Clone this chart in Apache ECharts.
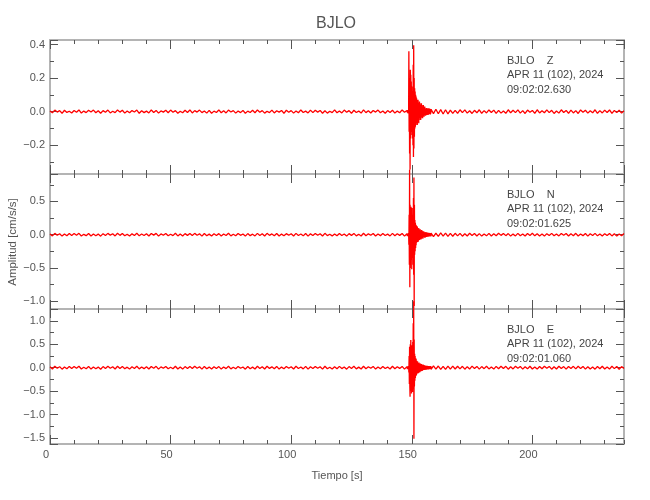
<!DOCTYPE html>
<html>
<head>
<meta charset="utf-8">
<script src="https://cdn.jsdelivr.net/npm/echarts@6/dist/echarts.min.js"></script>
<style>
html,body{margin:0;padding:0;background:#fff;}
#chart{width:650px;height:500px;}
</style>
</head>
<body>
<div id="chart"></div>
<script>
// ---------------- DATA ----------------
const station = 'BJLO';
const components = ['Z', 'N', 'E'];
const dateText = 'APR 11 (102), 2024';
const startTimes = ['09:02:02.630', '09:02:01.625', '09:02:01.060'];
const xTitle = 'Tiempo [s]';
const yTitle = 'Amplitud [cm/s/s]';

// sampling of the three segments (seconds)
const preStart = 0, preStep = 1;       // 0 .. 148 s
const evtStart = 148.1, evtStep = 0.1; // 148.1 .. 158.0 s
const postStart = 158, postStep = 1;   // 158 .. 238 s

// ---- Z component ----
const zPre = [
0.004,-0.007,0.009,-0.003,0.006,-0.010,0.008,-0.005,0.002,-0.008,
0.007,-0.004,0.010,-0.009,0.003,-0.006,0.008,-0.002,0.009,-0.007,
0.005,-0.010,0.006,-0.004,0.009,-0.008,0.002,-0.006,0.010,-0.003,
0.008,-0.009,0.004,-0.007,0.006,-0.002,0.009,-0.010,0.005,-0.006,
0.003,-0.008,0.010,-0.005,0.007,-0.009,0.004,-0.003,0.008,-0.007,
0.009,-0.004,0.006,-0.010,0.002,-0.007,0.008,-0.005,0.010,-0.008,
0.006,-0.003,0.009,-0.006,0.004,-0.009,0.007,-0.010,0.003,-0.005,
0.010,-0.007,0.005,-0.008,0.009,-0.002,0.006,-0.009,0.004,-0.006,
0.007,-0.010,0.003,-0.005,0.008,-0.007,0.010,-0.004,0.006,-0.009,
0.002,-0.006,0.009,-0.008,0.005,-0.003,0.007,-0.010,0.008,-0.004,
0.006,-0.009,0.004,-0.007,0.010,-0.005,0.003,-0.008,0.009,-0.006,
0.008,-0.003,0.007,-0.010,0.005,-0.009,0.002,-0.006,0.010,-0.007,
0.004,-0.008,0.009,-0.004,0.006,-0.010,0.008,-0.005,0.003,-0.009,
0.010,-0.006,0.005,-0.008,0.007,-0.003,0.009,-0.007,0.004,-0.010,
0.006,-0.005,0.008,-0.009,0.003,-0.007,0.010,-0.004,0.007
];
const zEvent = [
0.008,-0.006,0.010,-0.009,0.007,-0.011,0.012,
0.36,-0.12,0.20,-0.25,0.14,-0.345,0.25,-0.16,0.22,-0.12,0.18,-0.10,0.15,-0.14,0.12,-0.16,0.10,-0.20,0.28,-0.27,0.395,-0.22,0.20,-0.15,0.14,-0.10,0.12,-0.09,0.10,-0.08,0.09,-0.07,0.08,-0.06,
0.07,-0.08,0.06,-0.05,0.07,-0.06,0.05,-0.07,0.04,-0.05,
0.06,-0.04,0.05,-0.03,0.04,-0.05,0.03,-0.04,0.05,-0.03,
0.04,-0.03,0.03,-0.04,0.02,-0.03,0.04,-0.02,0.03,-0.03,
0.025,-0.02,0.03,-0.015,0.02,-0.025,0.018,-0.022,0.015,-0.02,
0.022,-0.018,0.02,-0.014,0.017,-0.02,0.012,-0.018,0.02,-0.015,
0.016,-0.012,0.018,-0.014,0.013,-0.017,0.015,-0.011,0.014
];
const zPost = [
0.015,-0.012,0.014,-0.013,0.012,-0.014,0.011,-0.013,
0.009,-0.011,0.007,-0.010,0.011,-0.006,0.010,-0.009,0.005,-0.011,
0.008,-0.007,0.011,-0.010,0.006,-0.008,0.010,-0.005,0.009,-0.011,
0.007,-0.009,0.004,-0.010,0.011,-0.007,0.008,-0.006,0.010,-0.009,
0.006,-0.011,0.009,-0.004,0.007,-0.010,0.011,-0.008,0.005,-0.007,
0.010,-0.006,0.008,-0.011,0.004,-0.009,0.011,-0.005,0.007,-0.010,
0.009,-0.008,0.006,-0.011,0.010,-0.004,0.008,-0.009,0.005,-0.007,
0.011,-0.010,0.006,-0.008,0.009,-0.005,0.010,-0.011,0.007,-0.006,
0.008,-0.009,0.005
];

// ---- N component ----
const nPre = [
0.012,-0.018,0.020,-0.008,0.015,-0.021,0.010,-0.016,0.019,-0.011,
0.017,-0.009,0.021,-0.019,0.006,-0.014,0.018,-0.020,0.011,-0.015,
0.009,-0.022,0.016,-0.012,0.020,-0.007,0.014,-0.018,0.021,-0.010,
0.019,-0.016,0.008,-0.020,0.013,-0.011,0.022,-0.017,0.010,-0.013,
0.015,-0.019,0.018,-0.006,0.020,-0.021,0.012,-0.009,0.017,-0.016,
0.007,-0.014,0.021,-0.018,0.011,-0.020,0.016,-0.010,0.019,-0.012,
0.020,-0.008,0.013,-0.021,0.018,-0.015,0.009,-0.019,0.014,-0.011,
0.016,-0.020,0.010,-0.013,0.022,-0.017,0.006,-0.016,0.019,-0.009,
0.011,-0.021,0.017,-0.014,0.008,-0.018,0.020,-0.012,0.015,-0.019,
0.021,-0.010,0.012,-0.016,0.018,-0.020,0.009,-0.015,0.016,-0.008,
0.014,-0.019,0.020,-0.011,0.010,-0.017,0.019,-0.021,0.013,-0.012,
0.017,-0.009,0.015,-0.020,0.021,-0.014,0.007,-0.018,0.012,-0.016,
0.019,-0.013,0.010,-0.021,0.016,-0.010,0.020,-0.017,0.008,-0.019,
0.022,-0.015,0.013,-0.009,0.018,-0.020,0.011,-0.014,0.017,-0.012,
0.009,-0.018,0.020,-0.016,0.014,-0.010,0.019,-0.021,0.015
];
const nEvent = [
0.015,-0.020,0.018,-0.016,0.022,-0.019,0.025,
-0.15,0.30,-0.45,0.98,-0.79,0.45,-0.50,0.35,-0.30,0.42,-0.38,0.28,-0.52,0.40,-0.30,0.25,-0.35,0.30,-0.45,0.55,-0.60,0.86,-1.07,0.45,-0.30,0.22,-0.25,0.18,-0.20,0.15,-0.16,0.14,-0.12,0.13,
-0.11,0.12,-0.10,0.09,-0.11,0.08,-0.09,0.10,-0.07,0.08,
-0.08,0.07,-0.06,0.08,-0.07,0.06,-0.07,0.05,-0.06,0.07,
-0.05,0.06,-0.05,0.04,-0.06,0.05,-0.04,0.05,-0.04,0.045,
-0.04,0.035,-0.045,0.03,-0.04,0.035,-0.03,0.04,-0.035,0.028,
-0.032,0.03,-0.027,0.033,-0.029,0.025,-0.03,0.028,-0.024,0.027,
-0.026,0.022,-0.028,0.024,-0.021,0.026,-0.023,0.02,-0.025
];
const nPost = [
0.025,-0.028,0.022,-0.026,0.027,-0.021,0.024,-0.025,0.02,-0.023,
0.021,-0.018,0.02,-0.022,0.015,-0.019,0.022,-0.012,0.018,-0.02,
0.016,-0.021,0.011,-0.017,0.02,-0.019,0.013,-0.016,0.021,-0.01,
0.019,-0.014,0.017,-0.021,0.009,-0.018,0.02,-0.015,0.012,-0.02,
0.018,-0.011,0.021,-0.017,0.014,-0.019,0.01,-0.021,0.016,-0.013,
0.02,-0.016,0.012,-0.018,0.019,-0.009,0.017,-0.02,0.013,-0.015,
0.021,-0.019,0.011,-0.014,0.018,-0.021,0.015,-0.012,0.02,-0.017,
0.01,-0.02,0.016,-0.013,0.019,-0.018,0.014,-0.021,0.012,-0.016,
0.018
];

// ---- E component ----
const ePre = [
0.018,-0.027,0.030,-0.012,0.022,-0.031,0.015,-0.024,0.028,-0.017,
0.026,-0.014,0.031,-0.028,0.010,-0.021,0.027,-0.030,0.016,-0.022,
0.013,-0.032,0.024,-0.018,0.030,-0.011,0.021,-0.027,0.031,-0.015,
0.028,-0.024,0.012,-0.030,0.019,-0.016,0.032,-0.025,0.015,-0.020,
0.022,-0.028,0.027,-0.010,0.030,-0.031,0.018,-0.013,0.025,-0.024,
0.011,-0.021,0.031,-0.027,0.016,-0.030,0.024,-0.015,0.028,-0.018,
0.030,-0.012,0.019,-0.031,0.027,-0.022,0.013,-0.028,0.021,-0.016,
0.024,-0.030,0.015,-0.019,0.032,-0.025,0.010,-0.024,0.028,-0.013,
0.016,-0.031,0.025,-0.021,0.012,-0.027,0.030,-0.018,0.022,-0.028,
0.031,-0.015,0.018,-0.024,0.027,-0.030,0.013,-0.022,0.024,-0.012,
0.021,-0.028,0.030,-0.016,0.015,-0.025,0.028,-0.031,0.019,-0.018,
0.025,-0.013,0.022,-0.030,0.031,-0.021,0.011,-0.027,0.018,-0.024,
0.028,-0.019,0.015,-0.031,0.024,-0.015,0.030,-0.025,0.012,-0.028,
0.032,-0.022,0.019,-0.013,0.027,-0.030,0.016,-0.021,0.025,-0.018,
0.013,-0.027,0.030,-0.024,0.021,-0.015,0.028,-0.031,0.022
];
const eEvent = [
0.025,-0.030,0.028,-0.026,0.032,-0.029,0.035,
-0.10,0.25,-0.35,0.45,-0.40,-0.62,0.50,-0.45,0.59,-0.50,0.40,-0.55,0.48,-0.38,0.42,-0.52,0.55,-0.45,0.95,-0.30,1.42,-1.52,0.60,-0.40,0.30,-0.28,0.25,-0.22,0.20,-0.18,0.19,-0.16,0.15,-0.14,
0.13,-0.12,0.14,-0.11,0.10,-0.12,0.09,-0.10,0.11,-0.08,
0.09,-0.10,0.08,-0.07,0.09,-0.08,0.07,-0.06,0.08,-0.07,
0.06,-0.07,0.05,-0.06,0.07,-0.05,0.06,-0.05,0.055,-0.045,
0.05,-0.045,0.04,-0.05,0.042,-0.038,0.045,-0.04,0.036,-0.042,
0.038,-0.035,0.04,-0.033,0.037,-0.036,0.032,-0.038,0.034,-0.03,
0.036,-0.032,0.03,-0.034,0.031,-0.029,0.033,-0.03,0.028
];
const ePost = [
-0.035,0.038,-0.032,0.036,-0.034,0.03,-0.037,0.033,-0.031,0.035,
-0.028,0.031,-0.025,0.03,-0.032,0.022,-0.029,0.033,-0.018,0.027,
-0.031,0.024,-0.02,0.032,-0.026,0.015,-0.03,0.028,-0.022,0.031,
-0.017,0.029,-0.032,0.021,-0.026,0.03,-0.014,0.027,-0.031,0.019,
-0.024,0.032,-0.028,0.016,-0.03,0.025,-0.021,0.031,-0.013,0.028,
-0.032,0.02,-0.027,0.03,-0.018,0.024,-0.031,0.026,-0.015,0.029,
-0.025,0.032,-0.019,0.027,-0.03,0.021,-0.028,0.014,-0.031,0.025,
-0.022,0.03,-0.027,0.017,-0.029,0.031,-0.02,0.026,-0.032,0.023,
-0.018
];

// axis ranges
const xMin = 0, xMax = 238;
const yMins = [-0.372, -1.116, -1.63];
const yMaxs = [0.427, 0.912, 1.254];
const ySplits = [4, 4, 5];

// ---------------- BUILD ----------------
function seg(arr, start, step) {
  return arr.map((v, i) => [+(start + i * step).toFixed(3), v]);
}
function trace(pre, evt, post) {
  return seg(pre, preStart, preStep).concat(seg(evt, evtStart, evtStep), seg(post, postStart, postStep));
}
const traces = [trace(zPre, zEvent, zPost), trace(nPre, nEvent, nPost), trace(ePre, eEvent, ePost)];

const FONT = "'Liberation Sans', Arial, sans-serif";
const LBL = '#555';
const FRAME = '#b4b4b4';
const TICK = '#555';

const L = 50, R = 26;
const gridTops = [40, 174, 309];
const gridHeights = [134, 135, 135];

const grid = [], xAxis = [], yAxis = [], series = [], graphic = [];
const fmtY = v => (Math.abs(v) < 1e-9 ? '0.0' : v.toFixed(1).replace('-', '\u2212'));

for (let i = 0; i < 3; i++) {
  grid.push({left: L, right: R, top: gridTops[i], height: gridHeights[i], containLabel: false});
  const base = {gridIndex: i, type: 'value', min: xMin, max: xMax, splitLine: {show: false}};
  // bottom major
  xAxis.push(Object.assign({}, base, {
    position: 'bottom', interval: 50,
    axisLine: {show: true, onZero: false, lineStyle: {color: FRAME, width: 2}},
    axisTick: {show: true, inside: true, length: 9, lineStyle: {color: TICK, width: 1}},
    axisLabel: {show: i === 2, showMaxLabel: false, color: LBL, fontSize: 11, fontFamily: FONT, margin: 5, padding: [0, 8, 0, 0]}
  }));
  // bottom minor
  xAxis.push(Object.assign({}, base, {
    position: 'bottom', interval: 10,
    axisLine: {show: false, onZero: false},
    axisTick: {show: true, inside: true, length: 4, lineStyle: {color: TICK, width: 1}},
    axisLabel: {show: false}
  }));
  // top major
  xAxis.push(Object.assign({}, base, {
    position: 'top', interval: 50,
    axisLine: {show: true, onZero: false, lineStyle: {color: FRAME, width: 2}},
    axisTick: {show: true, inside: true, length: 9, lineStyle: {color: TICK, width: 1}},
    axisLabel: {show: false}
  }));
  // top minor
  xAxis.push(Object.assign({}, base, {
    position: 'top', interval: 10,
    axisLine: {show: false, onZero: false},
    axisTick: {show: true, inside: true, length: 4, lineStyle: {color: TICK, width: 1}},
    axisLabel: {show: false}
  }));

  const ybase = {
    gridIndex: i, type: 'value', min: yMins[i], max: yMaxs[i], splitNumber: ySplits[i],
    splitLine: {show: false},
    axisLine: {show: true, onZero: false, lineStyle: {color: FRAME, width: 2}},
    axisTick: {show: true, inside: true, length: 8, lineStyle: {color: TICK, width: 1}},
    minorTick: {show: true, splitNumber: 2, length: 4, lineStyle: {color: TICK, width: 1}}
  };
  yAxis.push(Object.assign({}, ybase, {
    position: 'left',
    axisLabel: {show: true, showMinLabel: false, showMaxLabel: false, color: LBL, fontSize: 11, fontFamily: FONT, margin: 5, formatter: fmtY}
  }));
  yAxis.push(Object.assign({}, ybase, {position: 'right', axisLabel: {show: false}}));

  series.push({
    type: 'line', xAxisIndex: i * 4, yAxisIndex: i * 2, data: traces[i],
    showSymbol: false, symbol: 'none', clip: false, sampling: null,
    lineStyle: {color: '#ff0000', width: 1.3}, animation: false, z: 1
  });

  const lines = [station + '    ' + components[i], dateText, startTimes[i]];
  const offs = [21, 35.5, 50];
  lines.forEach((t, k) => {
    graphic.push({type: 'text', left: 507, top: gridTops[i] + offs[k] - 6,
      style: {text: t, fill: '#444', font: '11px ' + FONT}, z: 100});
  });
}

graphic.push({type: 'text', x: 336, y: 24, style: {text: station, fill: '#555', font: "16px 'Liberation Sans Narrow', 'Liberation Sans', sans-serif", textAlign: 'center', textVerticalAlign: 'middle'}});
graphic.push({type: 'text', x: 337, y: 476, style: {text: xTitle, fill: '#555', font: '11px ' + FONT, textAlign: 'center', textVerticalAlign: 'middle'}});
graphic.push({type: 'text', x: 13, y: 242, rotation: Math.PI / 2, style: {text: yTitle, fill: '#555', font: '11.5px ' + FONT, textAlign: 'center', textVerticalAlign: 'middle'}});

const chart = echarts.init(document.getElementById('chart'), null, {renderer: 'canvas'});
chart.setOption({
  animation: false,
  backgroundColor: '#fff',
  grid, xAxis, yAxis, series, graphic
});
</script>
</body>
</html>
